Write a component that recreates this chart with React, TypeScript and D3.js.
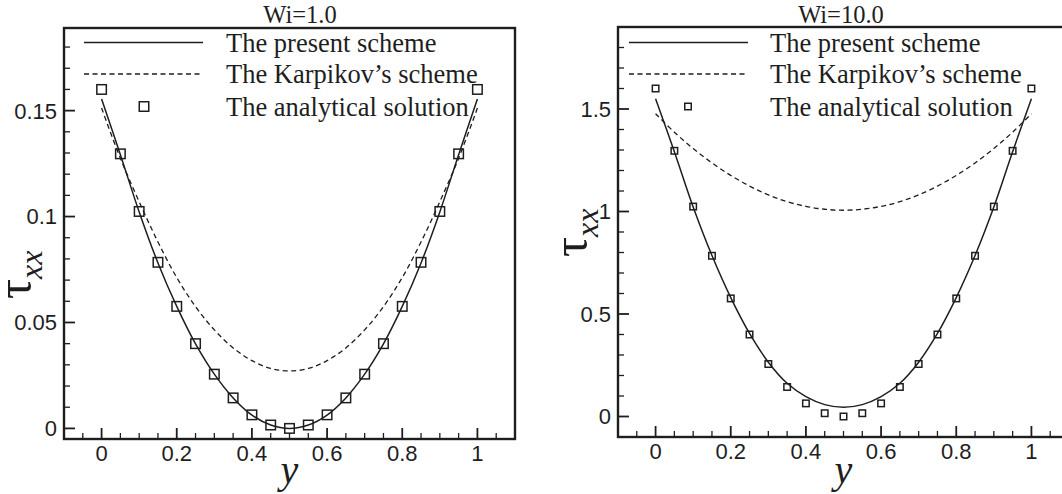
import React from 'react';
import * as d3 from 'd3';

// positions across the channel (y) where the curves and symbols are read
const yPos = [0, 0.05, 0.1, 0.15, 0.2, 0.25, 0.3, 0.35, 0.4, 0.45, 0.5, 0.55, 0.6, 0.65, 0.7, 0.75, 0.8, 0.85, 0.9, 0.95, 1];

// Wi = 1.0
const wi1Present = [0.1555, 0.1292, 0.1022, 0.0781, 0.0576, 0.0399, 0.0256, 0.0144, 0.0063, 0.0016, 0.0, 0.0016, 0.0063, 0.0144, 0.0256, 0.0399, 0.0576, 0.0781, 0.1022, 0.1292, 0.1555];
const wi1Karpikov = [0.1512, 0.1275, 0.107, 0.088, 0.0712, 0.0575, 0.0465, 0.038, 0.032, 0.0283, 0.0271, 0.0283, 0.032, 0.038, 0.0465, 0.0575, 0.0712, 0.088, 0.107, 0.1275, 0.1512];
const wi1Analytical = [0.16, 0.1296, 0.1024, 0.0784, 0.0576, 0.04, 0.0256, 0.0144, 0.0064, 0.0016, 0, 0.0016, 0.0064, 0.0144, 0.0256, 0.04, 0.0576, 0.0784, 0.1024, 0.1296, 0.16];

// Wi = 10.0
const wi10Present = [1.55, 1.292, 1.022, 0.785, 0.58, 0.405, 0.265, 0.162, 0.097, 0.058, 0.045, 0.058, 0.097, 0.162, 0.265, 0.405, 0.58, 0.785, 1.022, 1.292, 1.55];
const wi10Karpikov = [1.477, 1.387, 1.307, 1.237, 1.176, 1.124, 1.081, 1.048, 1.025, 1.011, 1.006, 1.011, 1.025, 1.048, 1.081, 1.124, 1.176, 1.237, 1.307, 1.387, 1.477];
const wi10Analytical = [1.6, 1.296, 1.024, 0.784, 0.576, 0.4, 0.256, 0.144, 0.064, 0.016, 0, 0.016, 0.064, 0.144, 0.256, 0.4, 0.576, 0.784, 1.024, 1.296, 1.6];

const xTicks = [0, 0.2, 0.4, 0.6, 0.8, 1];
const wi1YTicks = [0, 0.05, 0.1, 0.15];
const wi10YTicks = [0, 0.5, 1, 1.5];
const legendLabels = ['The present scheme', 'The Karpikov\u2019s scheme', 'The analytical solution'];

const SERIF = '"Liberation Serif", "Times New Roman", serif';
const SANS = '"Liberation Sans", Arial, Helvetica, sans-serif';
const INK = '#1e1e1e';

type PanelProps = {
  title: string;
  titleX: number;
  box: { l: number; t: number; r: number; b: number };
  yDomain: [number, number];
  yTicks: number[];
  yMinorStep: number;
  yMinorMax: number;
  present: number[];
  karpikov: number[];
  analytical: number[];
  marker: number;
  legendLine: [number, number];
  legendText: number;
  legendSquare: number;
  tauX: number;
  tauY: number;
  clipId: string;
};

function Panel(p: PanelProps) {
  const { l, t, r, b } = p.box;
  const x = d3.scaleLinear().domain([-0.1, 1.1]).range([l, r]);
  const y = d3.scaleLinear().domain(p.yDomain).range([b, t]);
  const line = d3
    .line<number>()
    .x((_, i) => x(yPos[i]))
    .y((d) => y(d))
    .curve(d3.curveCatmullRom.alpha(0.5));

  const xMinor = d3.range(-0.05, 1.0751, 0.05).filter((v) => !xTicks.some((m) => Math.abs(m - v) < 1e-6));
  const yMinor = d3
    .range(0, p.yMinorMax + 1e-9, p.yMinorStep)
    .filter((v) => !p.yTicks.some((m) => Math.abs(m - v) < 1e-6));
  const fmt = (v: number) => String(+v.toFixed(3));
  const rows = [42.5, 74, 106.5];

  return (
    <g>
      <defs>
        <clipPath id={p.clipId}>
          <rect x={l} y={t} width={r - l} height={b - t} />
        </clipPath>
      </defs>
      <text x={p.titleX} y={23} textAnchor="middle" fontFamily={SERIF} fontSize={24.5} fill={INK}>
        {p.title}
      </text>

      {/* curves */}
      <g clipPath={`url(#${p.clipId})`}>
        <path d={line(p.karpikov) || ''} fill="none" stroke={INK} strokeWidth={1.3} strokeDasharray="5,3.5" />
        <path d={line(p.present) || ''} fill="none" stroke={INK} strokeWidth={1.5} />
        {p.analytical.map((v, i) => (
          <rect
            key={i}
            x={x(yPos[i]) - p.marker / 2}
            y={y(v) - p.marker / 2}
            width={p.marker}
            height={p.marker}
            fill="none"
            stroke={INK}
            strokeWidth={1.5}
          />
        ))}
      </g>

      {/* legend */}
      <line x1={p.legendLine[0]} x2={p.legendLine[1]} y1={rows[0]} y2={rows[0]} stroke={INK} strokeWidth={1.6} />
      <line x1={p.legendLine[0]} x2={p.legendLine[1]} y1={rows[1]} y2={rows[1]} stroke={INK} strokeWidth={1.3} strokeDasharray="5,3.5" />
      <rect
        x={p.legendSquare - p.marker / 2}
        y={rows[2] - p.marker / 2}
        width={p.marker}
        height={p.marker}
        fill="none"
        stroke={INK}
        strokeWidth={1.5}
      />
      {legendLabels.map((s, i) => (
        <text key={s} x={p.legendText} y={rows[i] + 9} fontFamily={SERIF} fontSize={26.5} fill={INK}>
          {s}
        </text>
      ))}

      {/* ticks */}
      {xTicks.map((v) => (
        <g key={'xt' + v}>
          <line x1={x(v)} x2={x(v)} y1={b} y2={b - 11} stroke={INK} strokeWidth={1.8} />
          <text x={x(v)} y={b + 22} textAnchor="middle" fontFamily={SANS} fontSize={22} fill={INK}>
            {fmt(v)}
          </text>
        </g>
      ))}
      {xMinor.map((v) => (
        <line key={'xm' + v} x1={x(v)} x2={x(v)} y1={b} y2={b - 6} stroke={INK} strokeWidth={1.3} />
      ))}
      {p.yTicks.map((v) => (
        <g key={'yt' + v}>
          <line x1={l} x2={l + 11} y1={y(v)} y2={y(v)} stroke={INK} strokeWidth={1.8} />
          <text x={l - 7} y={y(v)} dy="0.36em" textAnchor="end" fontFamily={SANS} fontSize={22} fill={INK}>
            {fmt(v)}
          </text>
        </g>
      ))}
      {yMinor.map((v) => (
        <line key={'ym' + v} x1={l} x2={l + 6} y1={y(v)} y2={y(v)} stroke={INK} strokeWidth={1.3} />
      ))}

      {/* frame */}
      <rect x={l} y={t} width={r - l} height={b - t} fill="none" stroke={INK} strokeWidth={2.4} />

      {/* axis titles */}
      <text x={x(0.5)} y={483} textAnchor="middle" fontFamily={SERIF} fontStyle="italic" fontSize={40} fill={INK}>
        y
      </text>
      <text transform={`translate(${p.tauX},${p.tauY}) rotate(-90)`} fontFamily={SERIF} fill={INK}>
        <tspan fontSize={50}>τ</tspan>
        <tspan fontSize={32} fontStyle="italic" dy={11}>
          xx
        </tspan>
      </text>
    </g>
  );
}

export default function App() {
  return (
    <svg
      width={1062}
      height={494}
      style={{ position: 'absolute', left: 0, top: 0, background: '#fff', overflow: 'hidden' }}
    >
      <Panel
        title="Wi=1.0"
        titleX={300}
        box={{ l: 64, t: 28, r: 515, b: 439 }}
        yDomain={[-0.005, 0.189]}
        yTicks={wi1YTicks}
        yMinorStep={0.01}
        yMinorMax={0.18}
        present={wi1Present}
        karpikov={wi1Karpikov}
        analytical={wi1Analytical}
        marker={9.5}
        legendLine={[84, 203]}
        legendText={226}
        legendSquare={144}
        tauX={31}
        tauY={299}
        clipId="c1"
      />
      <Panel
        title="Wi=10.0"
        titleX={841}
        box={{ l: 618, t: 27, r: 1069, b: 437 }}
        yDomain={[-0.1, 1.9]}
        yTicks={wi10YTicks}
        yMinorStep={0.1}
        yMinorMax={1.8}
        present={wi10Present}
        karpikov={wi10Karpikov}
        analytical={wi10Analytical}
        marker={6.5}
        legendLine={[629, 748]}
        legendText={770}
        legendSquare={688}
        tauX={587}
        tauY={257}
        clipId="c2"
      />
    </svg>
  );
}
